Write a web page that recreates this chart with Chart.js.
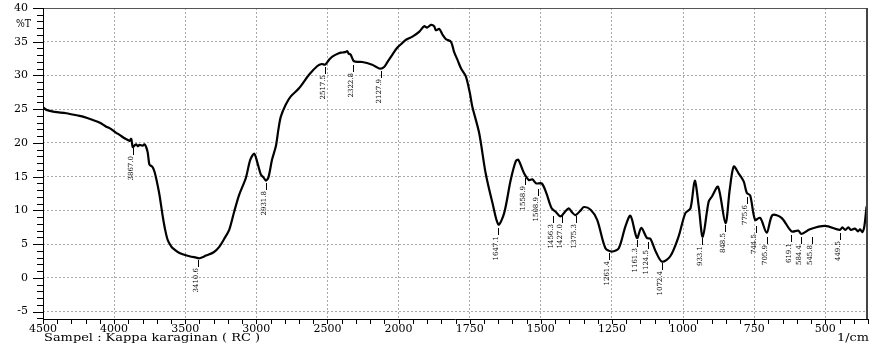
<!DOCTYPE html>
<html>
<head>
<meta charset="utf-8">
<script src="https://cdn.jsdelivr.net/npm/chart.js@4"></script>
<style>
  html, body { margin: 0; padding: 0; background: #fff; }
</style>
</head>
<body>
<canvas id="ftirChart" width="872" height="347"></canvas>
<script>
// spectrum: wavenumber (1/cm) and %T
const wavenumbers = [
  4500, 4476, 4420, 4336, 4243, 4219, 4149, 4100, 4055, 4032, 3985, 3962, 3927, 3900, 3892, 3880,
  3869, 3857, 3845, 3833, 3822, 3800, 3787, 3775, 3764, 3752, 3740, 3729, 3717, 3705, 3682, 3658,
  3640, 3623, 3600, 3588, 3550, 3518, 3470, 3424, 3401, 3354, 3300, 3261, 3220, 3191, 3156, 3121,
  3074, 3043, 3015, 2992, 2968, 2950, 2933, 2915, 2890, 2863, 2845, 2828, 2793, 2758, 2700, 2630,
  2571, 2540, 2517, 2490, 2466, 2420, 2396, 2370, 2361, 2350, 2337, 2314, 2256, 2186, 2160, 2127,
  2100, 2081, 2040, 2010, 1990, 1974, 1950, 1927, 1910, 1900, 1886, 1875, 1869, 1857, 1845, 1834,
  1816, 1805, 1793, 1780, 1764, 1750, 1741, 1717, 1694, 1670, 1649, 1629, 1606, 1588, 1579, 1559,
  1542, 1530, 1516, 1497, 1481, 1462, 1448, 1431, 1415, 1402, 1390, 1378, 1360, 1349, 1325, 1302,
  1273, 1250, 1226, 1203, 1185, 1162, 1147, 1127, 1115, 1095, 1074, 1045, 1016, 992, 974, 959,
  945, 931, 910, 898, 877, 851, 836, 822, 805, 787, 776, 764, 747, 729, 706, 686,
  654, 619, 595, 584, 554, 501, 449, 440, 430, 419, 410, 396, 385, 378, 370, 363, 355
];
const transmittance = [
  25.3, 24.9, 24.6, 24.4, 24.0, 23.9, 23.4, 23.0, 22.4, 22.2, 21.5, 21.2, 20.7, 20.4, 20.3, 20.6,
  19.4, 19.6, 19.8, 19.5, 19.7, 19.6, 19.8, 19.4, 18.6, 16.8, 16.6, 16.4, 15.8, 14.8, 12.4, 9.1,
  7.0, 5.6, 4.7, 4.4, 3.8, 3.5, 3.2, 3.0, 2.9, 3.3, 3.8, 4.6, 6.0, 7.1, 9.8, 12.3,
  14.8, 17.5, 18.4, 17.0, 15.3, 14.9, 14.4, 14.9, 17.5, 19.5, 22.0, 23.9, 25.7, 26.9, 28.1, 30.1,
  31.4, 31.7, 31.6, 32.3, 32.8, 33.3, 33.4, 33.5, 33.6, 33.2, 33.1, 32.1, 32.0, 31.6, 31.3, 31.0,
  31.3, 31.9, 33.2, 34.1, 34.7, 35.3, 35.8, 36.5, 37.3, 37.1, 37.5, 37.3, 36.7, 36.9, 36.0, 35.4,
  35.0, 33.5, 32.3, 31.0, 29.9, 27.5, 25.4, 21.5, 15.5, 11.1, 7.9, 9.6, 14.5, 17.3, 17.5, 15.5,
  14.5, 14.6, 14.0, 14.0, 12.6, 10.3, 9.8, 9.1, 9.8, 10.3, 9.7, 9.3, 10.0, 10.5, 10.1, 8.6,
  4.4, 3.9, 4.4, 7.6, 9.2, 5.9, 7.4, 5.9, 5.8, 3.8, 2.4, 3.2, 6.1, 9.6, 10.3, 14.4,
  10.6, 6.1, 11.3, 12.1, 13.5, 8.1, 13.1, 16.5, 15.5, 14.3, 12.6, 12.2, 8.6, 8.9, 6.7, 9.3,
  8.9, 6.9, 7.0, 6.5, 7.2, 7.7, 7.1, 7.5, 7.1, 7.5, 7.1, 7.3, 6.9, 7.2, 6.8, 7.6, 10.6
];

// peak annotations
const peakLabels = [
  "3867.0", "3410.6", "2931.8", "2517.5", "2322.8", "2127.9", "1647.1", "1558.9", "1508.9",
  "1456.3", "1427.0", "1375.3", "1261.4", "1161.3", "1124.5", "1072.4", "933.1", "848.5",
  "775.6", "744.5", "705.9", "619.1", "584.4", "545.8", "449.5"
];
const peakWn = [
  3869, 3408, 2933, 2517, 2322, 2127, 1649, 1556, 1509, 1457, 1427, 1378, 1261, 1162, 1123,
  1074, 935, 851, 776, 745, 706, 619, 584, 546, 449
];
const peakT = [
  19.3, 2.7, 14.1, 31.2, 31.6, 30.6, 7.4, 14.8, 13.1, 9.2, 9.2, 9.2, 3.7, 5.6, 5.3,
  2.2, 5.9, 7.9, 12.0, 7.7, 6.1, 6.4, 6.1, 6.1, 6.7
];

const xTickValues = [4500, 4000, 3500, 3000, 2500, 2000, 1750, 1500, 1250, 1000, 750, 500];
const yTickValues = [-5, 0, 5, 10, 15, 20, 25, 30, 35, 40];
const wnMin = 350;
const yMin = -6.1, yMax = 40;

// the instrument uses a 2x expanded scale below 2000 1/cm
function toPos(wn) {
  return wn >= 2000 ? (4500 - wn) / 500 : 5 + (2000 - wn) / 250;
}
function fromPos(p) {
  return p <= 5 ? 4500 - 500 * p : 2000 - 250 * (p - 5);
}

const FONT = '"DejaVu Serif", serif';

// draw text stretched to a given width (the instrument font is very wide)
function wideText(ctx, text, x, y, width, align) {
  const w = ctx.measureText(text).width;
  const k = width / w;
  ctx.save();
  ctx.translate(align === 'right' ? x - width : x, y);
  ctx.scale(k, 1);
  ctx.textAlign = 'left';
  ctx.fillText(text, 0, 0);
  ctx.restore();
}

const peakPlugin = {
  id: 'peakMarks',
  afterDatasetsDraw(chart) {
    const { ctx, scales: { x, y } } = chart;
    ctx.save();
    ctx.font = '7px ' + FONT;
    ctx.fillStyle = '#000';
    ctx.strokeStyle = '#000';
    ctx.lineWidth = 1;
    peakLabels.forEach((lab, i) => {
      const px = Math.round(x.getPixelForValue(toPos(peakWn[i]))) + 0.5;
      const py = Math.round(y.getPixelForValue(peakT[i]));
      ctx.beginPath();
      ctx.moveTo(px, py);
      ctx.lineTo(px, py + 7);
      ctx.stroke();
      ctx.save();
      ctx.translate(px - 2.5, py + 8);
      ctx.rotate(-Math.PI / 2);
      ctx.textAlign = 'right';
      ctx.textBaseline = 'middle';
      ctx.fillText(lab, 0, 0);
      ctx.restore();
    });
    ctx.restore();
  }
};

const framePlugin = {
  id: 'frame',
  afterDraw(chart) {
    const { ctx, chartArea: { left, right, top, bottom }, scales: { x, y } } = chart;
    ctx.save();
    ctx.lineWidth = 1;
    // top and right border
    ctx.strokeStyle = '#555';
    ctx.beginPath();
    ctx.moveTo(left, top + 0.5);
    ctx.lineTo(right, top + 0.5);
    ctx.stroke();
    ctx.lineWidth = 2;
    ctx.strokeStyle = '#444';
    ctx.beginPath();
    ctx.moveTo(right - 1, top);
    ctx.lineTo(right - 1, bottom);
    ctx.stroke();
    // axes
    ctx.lineWidth = 1;
    ctx.strokeStyle = '#000';
    ctx.beginPath();
    ctx.moveTo(left + 0.5, top);
    ctx.lineTo(left + 0.5, bottom + 1);
    ctx.moveTo(left, bottom + 0.5);
    ctx.lineTo(right, bottom + 0.5);
    ctx.stroke();
    // x ticks (5 per major division)
    ctx.beginPath();
    for (let p = 0; p <= toPos(wnMin) + 1e-6; p += 0.2) {
      const px = Math.round(x.getPixelForValue(p)) + 0.5;
      ctx.moveTo(px, bottom);
      ctx.lineTo(px, bottom + 5);
    }
    // y ticks, one per unit
    for (let v = -6; v <= 40; v++) {
      const py = Math.round(y.getPixelForValue(v)) + 0.5;
      const len = v % 5 === 0 ? 10 : 6;
      ctx.moveTo(left - len, py);
      ctx.lineTo(left, py);
    }
    ctx.stroke();
    // texts
    ctx.fillStyle = '#000';
    ctx.font = '11px ' + FONT;
    ctx.textBaseline = 'alphabetic';
    wideText(ctx, '%T', 16, 27, 15, 'left');
    wideText(ctx, 'Sampel : Kappa karaginan ( RC )', 44, 341, 216, 'left');
    wideText(ctx, '1/cm', 869, 341, 32, 'right');
    ctx.restore();
  }
};

const ctx = document.getElementById('ftirChart').getContext('2d');
new Chart(ctx, {
  type: 'line',
  data: {
    datasets: [{
      data: wavenumbers.map((w, i) => ({ x: toPos(w), y: transmittance[i] })),
      borderColor: '#000',
      borderWidth: 2.2,
      pointRadius: 0,
      tension: 0.3,
      fill: false
    }]
  },
  options: {
    responsive: false,
    animation: false,
    devicePixelRatio: 1,
    layout: { padding: { top: 8, right: 4, left: 0, bottom: 0 } },
    plugins: { legend: { display: false }, tooltip: { enabled: false } },
    scales: {
      x: {
        type: 'linear',
        min: 0,
        max: toPos(wnMin),
        afterBuildTicks: s => { s.ticks = xTickValues.map(v => ({ value: toPos(v) })); },
        afterFit: s => { s.height = 28; s.paddingLeft = 0; s.paddingRight = 0; },
        grid: { color: '#aaa', lineWidth: 1, drawTicks: false },
        border: { display: false, dash: [2, 2] },
        ticks: {
          autoSkip: false,
          maxRotation: 0,
          padding: 4,
          color: '#000',
          font: { family: FONT, size: 11 },
          callback: v => String(Math.round(fromPos(v)))
        }
      },
      y: {
        min: yMin,
        max: yMax,
        afterBuildTicks: s => { s.ticks = yTickValues.map(v => ({ value: v })); },
        afterFit: s => { s.width = 43; s.paddingTop = 0; s.paddingBottom = 0; },
        grid: { color: '#aaa', lineWidth: 1, drawTicks: false },
        border: { display: false, dash: [2, 2] },
        ticks: {
          padding: 15,
          color: '#000',
          font: { family: FONT, size: 11 }
        }
      }
    }
  },
  plugins: [peakPlugin, framePlugin]
});
</script>
</body>
</html>
